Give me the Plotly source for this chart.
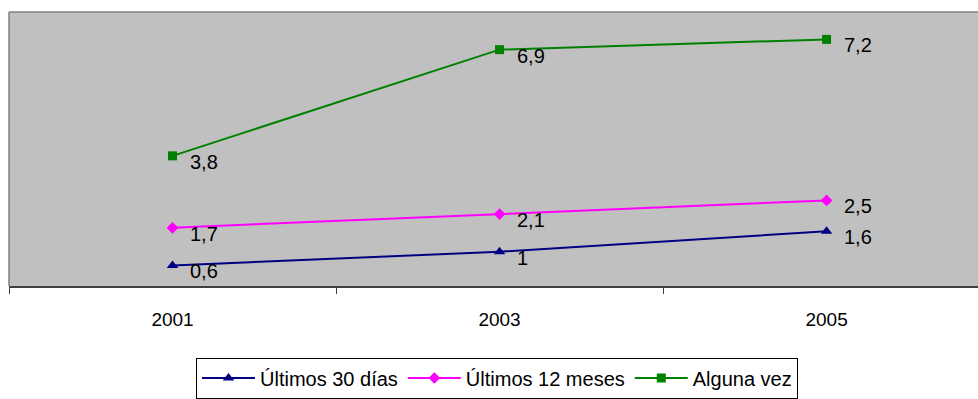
import plotly.graph_objects as go

years = ["2001", "2003", "2005"]
ultimos_30 = [0.6, 1.0, 1.6]
ultimos_12 = [1.7, 2.1, 2.5]
alguna_vez = [3.8, 6.9, 7.2]

series = [
    ("Últimos 30 días", ultimos_30, "#000080", "triangle-up", 10),
    ("Últimos 12 meses", ultimos_12, "#FF00FF", "diamond", 9),
    ("Alguna vez", alguna_vez, "#008000", "square", 9),
]

FONT = "Liberation Sans, Arial, sans-serif"


def fmt(v):
    return f"{v:g}".replace(".", ",")


fig = go.Figure()
annotations = []
for name, vals, color, symbol, msize in series:
    fig.add_trace(go.Scatter(
        x=years, y=vals, name=name, mode="lines+markers",
        line=dict(color=color, width=2),
        marker=dict(symbol=symbol, size=msize, color=color),
    ))
    # value labels, placed by category index on the category axis
    for i, v in enumerate(vals):
        annotations.append(dict(
            x=i, y=v, xref="x", yref="y", text=fmt(v), showarrow=False,
            xanchor="left", yanchor="middle", xshift=15, yshift=-6,
            font=dict(family=FONT, size=20, color="black"),
        ))

fig.update_layout(
    width=978, height=399,
    margin=dict(l=9, r=0, t=12, b=111),
    paper_bgcolor="white",
    plot_bgcolor="#C0C0C0",
    font=dict(family=FONT, color="black"),
    annotations=annotations,
    xaxis=dict(
        type="category", range=[-0.5, 2.463],
        showgrid=False, zeroline=False,
        showline=True, linecolor="#404040", linewidth=2,
        ticks="outside", tickson="boundaries", ticklen=6,
        tickcolor="#404040", tickwidth=1,
        ticklabelstandoff=15,
        tickfont=dict(family=FONT, size=19, color="black"),
    ),
    yaxis=dict(
        range=[0, 8], showgrid=False, zeroline=False,
        showticklabels=False, ticks="",
        showline=False,
    ),
    shapes=[
        dict(type="line", xref="paper", yref="paper", x0=0, x1=1.02, y0=1, y1=1,
             line=dict(color="#808080", width=1.5), layer="above"),
        dict(type="line", xref="paper", yref="paper", x0=0, x1=0, y0=0, y1=1,
             line=dict(color="#808080", width=1.5), layer="above"),
    ],
    legend=dict(
        orientation="h", x=(196 - 9) / 969, xanchor="left", y=-0.261, yanchor="top",
        bordercolor="black", borderwidth=1, bgcolor="white",
        itemwidth=53,
        font=dict(family=FONT, size=20, color="black"),
    ),
)

fig.write_html("out.html")
